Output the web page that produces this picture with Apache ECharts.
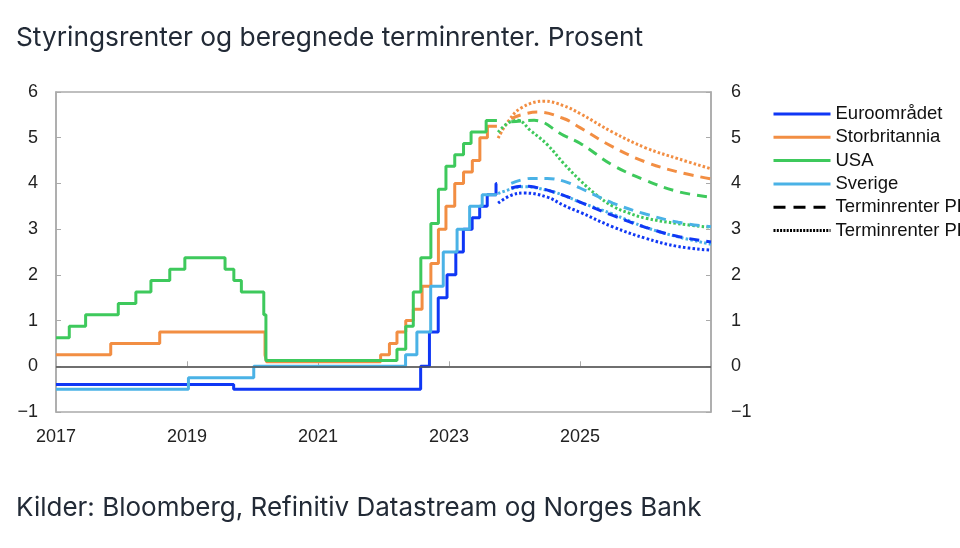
<!DOCTYPE html>
<html>
<head>
<meta charset="utf-8">
<script src="https://cdn.jsdelivr.net/npm/echarts@6/dist/echarts.min.js"></script>
<style>html,body{margin:0;padding:0;background:#fff}#c{width:960px;height:548px}</style>
</head>
<body>
<div id="c"></div>
<script>
// ---- Data ----
const titleText = "Styringsrenter og beregnede terminrenter. Prosent";
const sourceText = "Kilder: Bloomberg, Refinitiv Datastream og Norges Bank";
const xTicks = [2017, 2019, 2021, 2023, 2025, 2027];
const yTicks = [-1, 0, 1, 2, 3, 4, 5, 6];
const seriesNames = ["Euroområdet", "Storbritannia", "USA", "Sverige"];
const fwdNames = ["Terminrenter PPR 4/23", "Terminrenter PPR 3/23"];

// Policy rates: [change date, new level]
const euroHist = [["2017-01-01",-0.4],["2019-09-18",-0.5],["2022-07-27",0],["2022-09-14",0.75],["2022-11-02",1.5],["2022-12-21",2.0],["2023-02-08",2.5],["2023-03-22",3.0],["2023-05-10",3.25],["2023-06-21",3.5],["2023-08-02",3.75],["2023-09-20",4.0],["2023-09-25",4.0]];
const ukHist = [["2017-01-01",0.25],["2017-11-02",0.5],["2018-08-02",0.75],["2020-03-11",0.25],["2020-03-19",0.1],["2021-12-16",0.25],["2022-02-03",0.5],["2022-03-17",0.75],["2022-05-05",1.0],["2022-06-16",1.25],["2022-08-04",1.75],["2022-09-22",2.25],["2022-11-03",3.0],["2022-12-15",3.5],["2023-02-02",4.0],["2023-03-23",4.25],["2023-05-11",4.5],["2023-06-22",5.0],["2023-08-03",5.25],["2023-09-25",5.25]];
const usaHist = [["2017-01-01",0.625],["2017-03-16",0.875],["2017-06-15",1.125],["2017-12-14",1.375],["2018-03-22",1.625],["2018-06-14",1.875],["2018-09-27",2.125],["2018-12-20",2.375],["2019-08-01",2.125],["2019-09-19",1.875],["2019-10-31",1.625],["2020-03-04",1.125],["2020-03-16",0.125],["2022-03-17",0.375],["2022-05-05",0.875],["2022-06-16",1.625],["2022-07-28",2.375],["2022-09-22",3.125],["2022-11-03",3.875],["2022-12-15",4.375],["2023-02-02",4.625],["2023-03-23",4.875],["2023-05-04",5.125],["2023-07-27",5.375],["2023-09-25",5.375]];
const seHist = [["2017-01-01",-0.5],["2019-01-09",-0.25],["2020-01-08",0],["2022-05-04",0.25],["2022-07-06",0.75],["2022-09-21",1.75],["2022-11-30",2.5],["2023-02-15",3.0],["2023-04-26",3.5],["2023-07-05",3.75],["2023-09-25",3.75]];

// Forward rates: [year (decimal), rate]
const euroNew = [[2023.95,3.9],[2024.1,3.94],[2024.3,3.92],[2024.75,3.74],[2025.0,3.59],[2025.5,3.3],[2026.0,3.04],[2026.5,2.84],[2027.0,2.72]];
const euroOld = [[2023.75,3.57],[2023.95,3.74],[2024.15,3.79],[2024.5,3.7],[2024.75,3.52],[2025.0,3.37],[2025.5,3.05],[2026.0,2.8],[2026.5,2.62],[2027.0,2.54]];
const ukNew = [[2023.95,5.42],[2024.1,5.5],[2024.35,5.56],[2024.75,5.42],[2025.0,5.22],[2025.5,4.8],[2026.0,4.47],[2026.5,4.25],[2027.0,4.1]];
const ukOld = [[2023.75,4.99],[2023.9,5.35],[2024.1,5.65],[2024.45,5.8],[2024.75,5.7],[2025.0,5.53],[2025.5,5.12],[2026.0,4.78],[2026.5,4.54],[2027.0,4.32]];
const usaNew = [[2023.95,5.35],[2024.3,5.38],[2024.75,5.05],[2025.0,4.88],[2025.5,4.4],[2026.0,4.07],[2026.5,3.82],[2027.0,3.7]];
const usaOld = [[2023.75,5.12],[2023.9,5.32],[2024.05,5.38],[2024.25,5.15],[2024.5,4.85],[2024.75,4.44],[2025.0,4.07],[2025.25,3.75],[2025.5,3.5],[2025.75,3.35],[2026.0,3.24],[2026.5,3.12],[2027.0,3.04]];
const seNew = [[2023.95,4.0],[2024.25,4.11],[2024.5,4.11],[2024.75,4.05],[2025.0,3.9],[2025.5,3.57],[2026.0,3.33],[2026.5,3.15],[2027.0,3.05]];
const seOld = [[2023.75,3.78],[2024.0,3.9],[2024.15,3.93],[2024.5,3.85],[2024.75,3.74],[2025.0,3.59],[2025.5,3.33],[2026.0,3.04],[2026.5,2.83],[2027.0,2.67]];

// ---- Styles ----
const colors = ["#0f37f5", "#f28e43", "#3ec95c", "#4ab2e6"];
const dashType = [10, 7];
const dotType = [2.5, 2.2];

function toYear(d) {
  const dt = new Date(d + "T00:00:00Z");
  const y = dt.getUTCFullYear();
  const start = Date.UTC(y, 0, 1), end = Date.UTC(y + 1, 0, 1);
  return y + (dt.getTime() - start) / (end - start);
}
const hist = [euroHist, ukHist, usaHist, seHist].map(a => a.map(p => [toYear(p[0]), p[1]]));
const fNew = [euroNew, ukNew, usaNew, seNew];
const fOld = [euroOld, ukOld, usaOld, seOld];

const series = [];
hist.forEach((d, i) => {
  series.push({ name: seriesNames[i], type: "line", step: "end", data: d, symbol: "none",
    lineStyle: { color: colors[i], width: 3 }, itemStyle: { color: colors[i] }, z: 3 });
});
fOld.forEach((d, i) => {
  series.push({ name: seriesNames[i] + " old", type: "line", smooth: 0.4, data: d, symbol: "none",
    lineStyle: { color: colors[i], width: 3, type: dotType }, z: 2 });
});
fNew.forEach((d, i) => {
  series.push({ name: seriesNames[i] + " new", type: "line", smooth: 0.4, data: d, symbol: "none",
    lineStyle: { color: colors[i], width: 3, type: dashType }, z: 2 });
});
series.push({ name: fwdNames[0], type: "line", data: [], symbol: "none", itemStyle: { color: "#000" },
  lineStyle: { color: "#000", width: 3, type: [12, 8] } });
series.push({ name: fwdNames[1], type: "line", data: [], symbol: "none", itemStyle: { color: "#000" },
  lineStyle: { color: "#000", width: 3, type: [2, 1.3] } });
// zero line
series[0].markLine = { silent: true, symbol: "none", label: { show: false },
  lineStyle: { color: "#555", width: 1.5, type: "solid" }, data: [{ yAxis: 0 }] };

const axisFont = { fontFamily: "Liberation Sans, Arial, sans-serif", fontSize: 18, color: "#222" };
const yFmt = v => (v < 0 ? "\u2212" + Math.abs(v) : String(v));

const option = {
  animation: false,
  backgroundColor: "#fff",
  title: [
    { text: titleText, left: 11, top: 20, textStyle: { fontFamily: "Inter, sans-serif", fontSize: 26.3, fontWeight: "normal", color: "#222a36" } },
    { text: sourceText, left: 11, top: 490, textStyle: { fontFamily: "Inter, sans-serif", fontSize: 26, fontWeight: "normal", color: "#222a36" } }
  ],
  grid: { left: 56, right: 249, top: 92, bottom: 136, show: true, borderColor: "#aaa", borderWidth: 1.5 },
  legend: {
    data: seriesNames.concat(fwdNames), orient: "vertical", left: 767, top: 99,
    itemWidth: 57, itemHeight: 14, itemGap: 3.3,
    itemStyle: { opacity: 0, borderWidth: 0 },
    lineStyle: { width: 3 },
    textStyle: { fontFamily: "Liberation Sans, Arial, sans-serif", fontSize: 18.5, lineHeight: 20, color: "#111" },
    selectedMode: false
  },
  xAxis: {
    type: "value", min: xTicks[0], max: xTicks[xTicks.length - 1], interval: 2,
    axisLine: { lineStyle: { color: "#aaa", width: 1.5 } },
    axisTick: { inside: true, length: 5, lineStyle: { color: "#aaa" } },
    axisLabel: Object.assign({ margin: 16, formatter: v => (v < 2027 ? String(v) : "") }, axisFont),
    splitLine: { show: false }
  },
  yAxis: [
    { type: "value", min: yTicks[0], max: yTicks[yTicks.length - 1], interval: 1, position: "left",
      axisLine: { show: true, lineStyle: { color: "#aaa", width: 1.5 } },
      axisTick: { show: true, inside: true, length: 5, lineStyle: { color: "#aaa" } },
      axisLabel: Object.assign({ margin: 18, formatter: yFmt }, axisFont),
      splitLine: { show: false } },
    { type: "value", min: yTicks[0], max: yTicks[yTicks.length - 1], interval: 1, position: "right",
      axisLine: { show: true, lineStyle: { color: "#aaa", width: 1.5 } },
      axisTick: { show: true, inside: true, length: 5, lineStyle: { color: "#aaa" } },
      axisLabel: Object.assign({ margin: 20, formatter: yFmt }, axisFont),
      splitLine: { show: false } }
  ],
  series: series
};
const chart = echarts.init(document.getElementById("c"), null, { renderer: "canvas" });
chart.setOption(option);
</script>
</body>
</html>
